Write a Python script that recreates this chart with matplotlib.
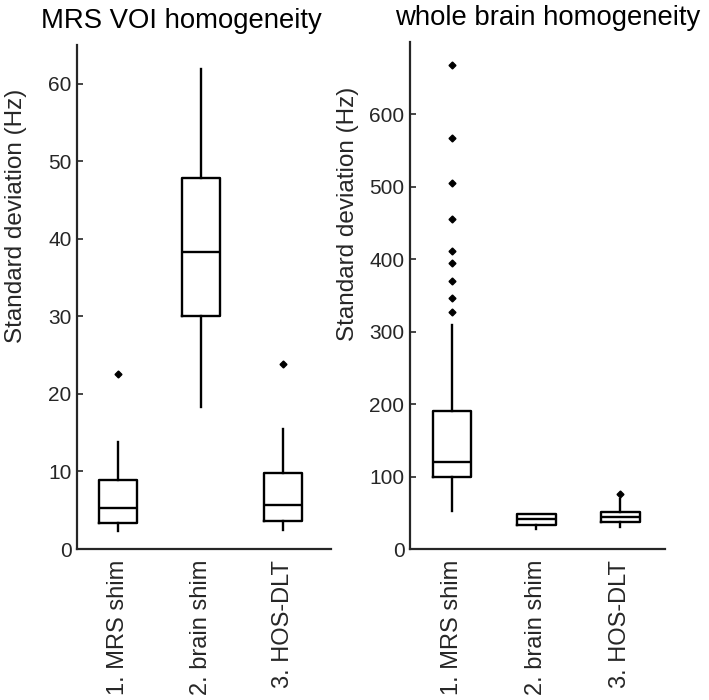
import matplotlib
matplotlib.use('Agg')
import matplotlib.pyplot as plt

plt.rcParams['font.family'] = ['Liberation Sans', 'DejaVu Sans']

labels = ['1. MRS shim', '2. brain shim', '3. HOS-DLT']

# MRS VOI homogeneity (Hz)
voi_whislo = [2.3, 18.3, 2.4]
voi_q1 = [3.4, 30.0, 3.6]
voi_med = [5.3, 38.3, 5.7]
voi_q3 = [8.9, 47.8, 9.8]
voi_whishi = [13.8, 61.9, 15.5]
voi_fliers = [[22.6], [], [23.8]]

# whole brain homogeneity (Hz)
brain_whislo = [52, 27.5, 30.7]
brain_q1 = [99.6, 33.5, 37.2]
brain_med = [119.8, 41.0, 43.6]
brain_q3 = [190, 47.8, 51.4]
brain_whishi = [308.5, 48.6, 69]
brain_fliers = [[327, 346, 370, 395, 411, 456, 505.5, 567, 667.6], [], [75.8]]

grey = '#262626'


def make_stats(lo, q1, med, q3, hi, fl):
    return [dict(label=labels[i], whislo=lo[i], q1=q1[i], med=med[i], q3=q3[i],
                 whishi=hi[i], fliers=fl[i]) for i in range(len(labels))]


def draw(ax, stats, title, title_x, yticks, ylim, xlim):
    ax.bxp(stats, positions=[1, 2, 3], widths=0.46, showcaps=False,
           boxprops=dict(color='black', linewidth=1.7),
           whiskerprops=dict(color='black', linewidth=1.7),
           medianprops=dict(color='black', linewidth=1.7),
           flierprops=dict(marker='D', markersize=3.5, markerfacecolor='black',
                           markeredgecolor='black'))
    ax.set_xlim(xlim)
    ax.set_ylim(ylim)
    ax.set_yticks(yticks)
    ax.set_xticks([1, 2, 3])
    ax.set_xticklabels(labels, rotation=90, fontsize=17, color=grey, va='top')
    ax.tick_params(axis='x', length=0, pad=8)
    ax.tick_params(axis='y', direction='in', length=4, width=1.2, colors=grey,
                   labelsize=15, pad=4)
    for s in ['top', 'right']:
        ax.spines[s].set_visible(False)
    for s in ['left', 'bottom']:
        ax.spines[s].set_linewidth(1.6)
        ax.spines[s].set_color(grey)
    ax.set_ylabel('Standard deviation (Hz)', fontsize=17.5, color=grey)
    ax.set_title(title, fontsize=19.8, color='black', x=title_x, pad=12)


fig = plt.figure(figsize=(7.09, 7.00), dpi=100)

ax1 = fig.add_axes([0.1086, 0.2157, 0.3583, 0.72])
draw(ax1, make_stats(voi_whislo, voi_q1, voi_med, voi_q3, voi_whishi, voi_fliers),
     'MRS VOI homogeneity', 0.41, range(0, 61, 10), (0, 65), (0.5, 3.58))
ax1.yaxis.set_label_coords(-0.198, 0.66)

ax2 = fig.add_axes([0.5783, 0.2157, 0.3597, 0.7247])
draw(ax2, make_stats(brain_whislo, brain_q1, brain_med, brain_q3, brain_whishi, brain_fliers),
     'whole brain homogeneity', 0.54, range(0, 601, 100), (0, 700), (0.5, 3.53))
ax2.yaxis.set_label_coords(-0.2, 0.66)

fig.savefig('out.png', dpi=100)
